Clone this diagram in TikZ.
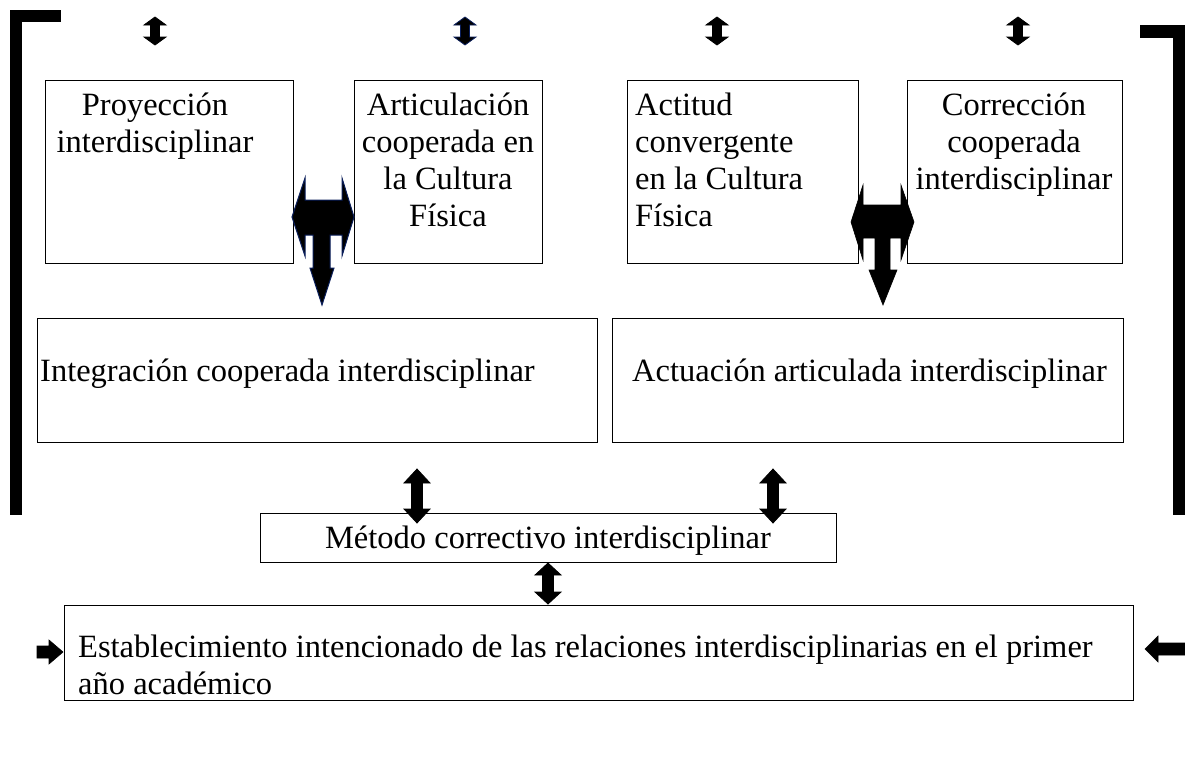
\documentclass[tikz,border=0pt]{standalone}
\usepackage{fontspec}
\setmainfont{Liberation Serif}
\definecolor{navyline}{RGB}{10,30,90}
\newcommand\vdarrow[7][black]{%
  \filldraw[fill=black,draw=#1,line width=0.8pt,line join=miter]
  (#2,#3) -- ({#2+#5/2},{#3+#7}) -- ({#2+#6/2},{#3+#7}) -- ({#2+#6/2},{#4-#7})
  -- ({#2+#5/2},{#4-#7}) -- (#2,#4) -- ({#2-#5/2},{#4-#7}) -- ({#2-#6/2},{#4-#7})
  -- ({#2-#6/2},{#3+#7}) -- ({#2-#5/2},{#3+#7}) -- cycle;}
\begin{document}
\begin{tikzpicture}[x=1pt,y=-1pt,
  box/.style={draw,line width=1.3pt,inner sep=0pt,anchor=north west},
  txt/.style={inner sep=0pt,font=\fontsize{32.5}{37}\selectfont},
  solid arrow/.style={fill=black,draw=black,line width=0.6pt,line join=miter}]
\useasboundingbox (0,0) rectangle (1185,756);
% brackets
\fill (10,10) rectangle (22,515);
\fill (10,10) rectangle (61,22);
\fill (1173,25) rectangle (1185,515);
\fill (1140,25) rectangle (1185,38);
% top row boxes
\node[box,minimum width=248pt,minimum height=183pt] (b1) at (45,80) {};
\node[box,minimum width=188pt,minimum height=183pt] (b2) at (354,80) {};
\node[box,minimum width=231pt,minimum height=183pt] (b3) at (627,80) {};
\node[box,minimum width=215pt,minimum height=183pt] (b4) at (907,80) {};
\node[txt,anchor=north,align=center] (t1) at (155,93) {Proyección\\interdisciplinar};
\node[txt,anchor=north,align=center] (t2) at (448,93) {Articulación\\cooperada en\\la Cultura\\Física};
\node[txt,anchor=north west,align=left] (t3) at (635,93) {Actitud\\convergente\\en la Cultura\\Física};
\node[txt,anchor=north,align=center] (t4) at (1014,93) {Corrección\\cooperada\\interdisciplinar};
% middle boxes
\node[box,minimum width=560pt,minimum height=124pt] (b5) at (37,318) {};
\node[box,minimum width=511pt,minimum height=124pt] (b6) at (612,318) {};
\node[txt,anchor=base west] (t5) at (40,381) {Integración cooperada interdisciplinar};
\node[txt,anchor=base west] (t6) at (632,381) {Actuación articulada interdisciplinar};
% method box
\node[box,minimum width=576pt,minimum height=49pt] (b7) at (260,513) {};
\node[txt,anchor=base] (t7) at (548,548) {Método correctivo interdisciplinar};
% bottom box
\node[box,minimum width=1069pt,minimum height=95pt] (b8) at (64,605) {};
\node[txt,anchor=north west,align=left] (t8) at (78,635) {Establecimiento intencionado de las relaciones interdisciplinarias en el primer\\año académico};
% small top arrows
\vdarrow{155}{17}{45}{22}{9}{8}
\vdarrow[navyline]{465}{17}{45}{22}{9}{8}
\vdarrow{717}{17}{45}{22}{9}{8}
\vdarrow{1018}{17}{45}{22}{9}{8}
% middle arrows
\vdarrow{417}{469}{523}{26}{11}{14}
\vdarrow{773}{469}{523}{26}{11}{14}
\vdarrow{548}{563}{604}{26}{11}{12}
% T arrows
\filldraw[fill=black,draw=navyline,line width=1pt,line join=miter]
 (292,217) -- (305,178) -- (305,200) -- (342,200) -- (342,178) -- (354,217)
 -- (342,256) -- (342,235) -- (330,235) -- (330,268) -- (334,268) -- (322,305)
 -- (310,268) -- (313,268) -- (313,235) -- (305,235) -- (305,256) -- cycle;
\filldraw[solid arrow]
 (851,222) -- (863,185) -- (863,205) -- (901,205) -- (901,185) -- (914,222)
 -- (901,260) -- (901,238) -- (890,238) -- (890,270) -- (897,270) -- (883,305)
 -- (869,270) -- (875,270) -- (875,238) -- (863,238) -- (863,260) -- cycle;
% side arrows
\filldraw[solid arrow] (37,646) -- (49,646) -- (49,640) -- (63,652) -- (49,664) -- (49,658) -- (37,658) -- cycle;
\filldraw[solid arrow] (1185,643) -- (1158,643) -- (1158,636) -- (1145,649) -- (1158,662) -- (1158,655) -- (1185,655) -- cycle;
\end{tikzpicture}
\end{document}
